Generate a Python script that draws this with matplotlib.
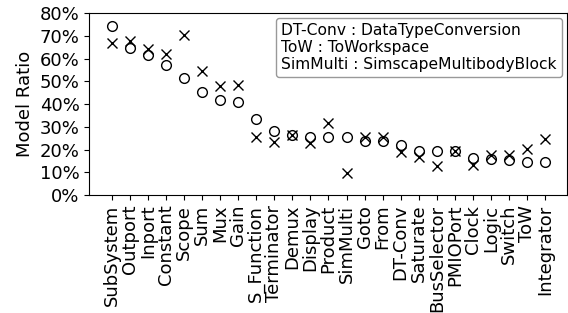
import numpy as np
import matplotlib.pyplot as plt
from matplotlib.lines import Line2D
from matplotlib.ticker import PercentFormatter

blocks = ['SubSystem', 'Outport', 'Inport', 'Constant', 'Scope', 'Sum', 'Mux', 'Gain',
          'S_Function', 'Terminator', 'Demux', 'Display', 'Product', 'SimMulti', 'Goto',
          'From', 'DT-Conv', 'Saturate', 'BusSelector', 'PMIOPort', 'Clock', 'Logic',
          'Switch', 'ToW', 'Integrator']
ratio_circle = [74.4, 64.5, 61.5, 57.1, 51.3, 45.1, 41.9, 41.0, 33.4, 28.1, 26.4, 25.6,
                25.6, 25.4, 23.7, 23.7, 22.0, 19.5, 19.5, 19.5, 16.1, 15.7, 15.4, 14.6, 14.4]
ratio_cross = [67.0, 67.8, 64.2, 62.0, 70.3, 54.6, 47.9, 48.4, 25.6, 23.4, 26.6, 22.7,
               31.5, 9.5, 25.6, 25.6, 19.0, 16.8, 12.7, 19.5, 13.2, 17.4, 17.6, 20.2, 24.6]
abbrev = ['DT-Conv : DataTypeConversion', 'ToW : ToWorkspace',
          'SimMulti : SimscapeMultibodyBlock']

fig = plt.figure(figsize=(5.68, 3.13), dpi=100)
ax = fig.add_axes([0.157, 0.377, 0.841, 0.581])

x = np.arange(len(blocks))
ax.plot(x, ratio_circle, 'o', markerfacecolor='none', markeredgecolor='black',
        markersize=7, markeredgewidth=1)
ax.plot(x, ratio_cross, 'x', color='black', markersize=7, markeredgewidth=1)

ax.set_xlim(-1.25, len(blocks) - 1 + 1.2)
ax.set_ylim(0, 80)
ax.set_yticks(np.arange(0, 81, 10))
ax.yaxis.set_major_formatter(PercentFormatter(decimals=0))
ax.set_xticks(x)
ax.set_xticklabels(blocks, rotation=90)
ax.tick_params(axis='both', labelsize=13)
ax.set_ylabel('Model Ratio', fontsize=13)

# legend used only as a text box for the abbreviations
handles = [Line2D([], [], linestyle='none') for _ in abbrev]
leg = ax.legend(handles, abbrev, loc='upper right', fontsize=11.2, handlelength=0,
                handletextpad=0, borderpad=0.35, labelspacing=0.12,
                borderaxespad=0.3)
leg.get_frame().set_edgecolor('0.5')

fig.savefig('out.png', dpi=100)
